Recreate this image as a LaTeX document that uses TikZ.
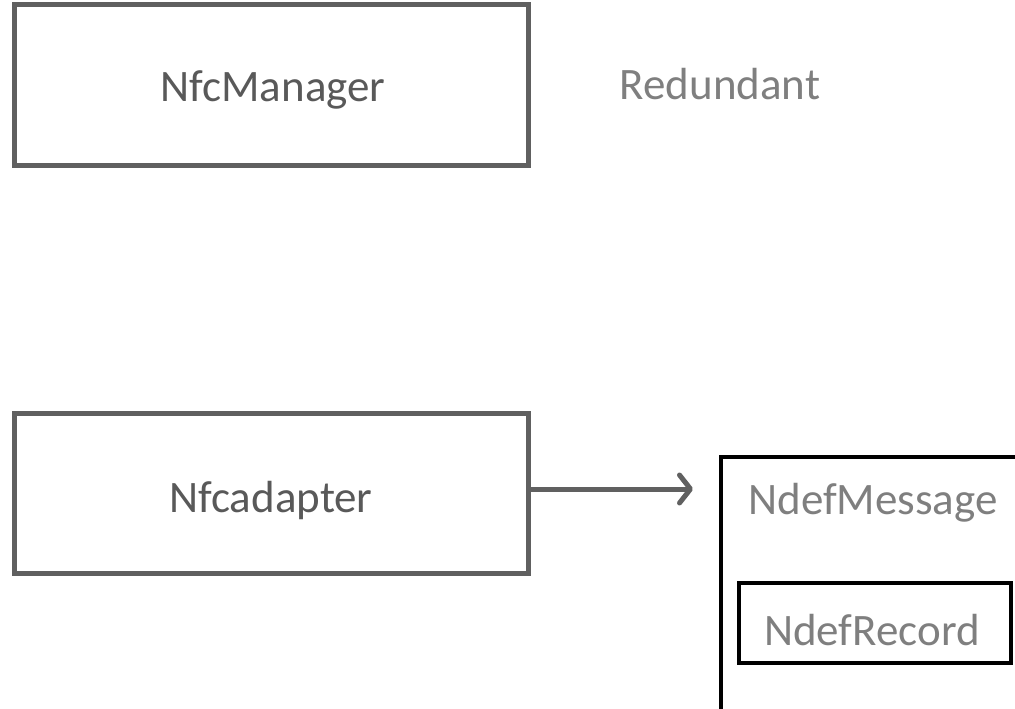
\documentclass[tikz,border=0pt]{standalone}
\usepackage{fontspec}
\setmainfont{Carlito}
\usetikzlibrary{arrows.meta}
\definecolor{boxgray}{HTML}{606060}
\definecolor{txtdark}{HTML}{595959}
\definecolor{txtlight}{HTML}{7F7F7F}
\begin{document}
\begin{tikzpicture}[x=1pt,y=-1pt,
  graybox/.style={draw=boxgray,line width=5pt,minimum width=514pt,minimum height=160pt,inner sep=0pt,text=txtdark,font=\fontsize{45}{50}\selectfont},
  blackbox/.style={draw=black,line width=4.5pt,inner sep=0pt},
  lighttxt/.style={text=txtlight,font=\fontsize{45}{50}\selectfont,inner sep=0pt}]
\useasboundingbox (0,0) rectangle (1015,709);
\clip (0,0) rectangle (1015,709);
\node[graybox] (mgr) at (271,85) {};
\node[text=txtdark,font=\fontsize{45}{50}\selectfont,inner sep=0pt] (mgrt) at (273,90) {NfcManager};
\node[lighttxt] (red) at (720,84) {Redundant};
\node[graybox] (adp) at (271,493) {};
\node[text=txtdark,font=\fontsize{45}{50}\selectfont,inner sep=0pt] (adpt) at (271,500) {Nfcadapter};
\node[blackbox,minimum width=320pt,minimum height=265pt] (msg) at (881,589.5) {};
\node[lighttxt] (msgt) at (873,503) {NdefMessage};
\node[blackbox,minimum width=272pt,minimum height=80pt] (rec) at (875,623) {};
\node[lighttxt] (rect) at (872,630) {NdefRecord};
\coordinate (tip) at (693,489);
\draw[boxgray,line width=5pt,-{Straight Barb[length=11pt,width=28pt,line cap=round,line join=round]}] (adp.east |- tip) -- (tip);
\end{tikzpicture}
\end{document}
